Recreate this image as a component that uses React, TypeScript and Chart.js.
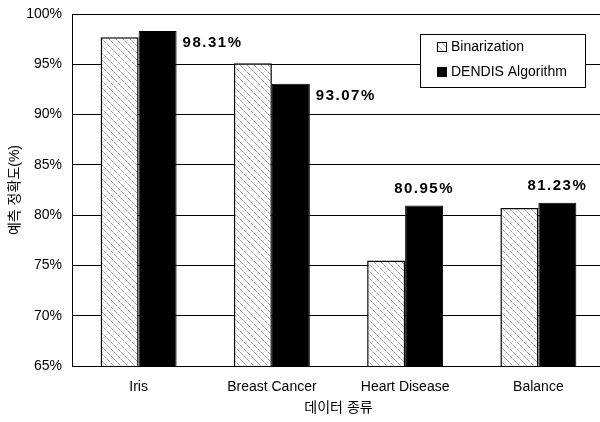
import React, { useEffect, useRef } from "react";
import { Chart, registerables } from "chart.js";

Chart.register(...registerables);

const categories = ["Iris", "Breast Cancer", "Heart Disease", "Balance"];
const binarization = [97.7, 95.1, 75.5, 80.7];
const dendis = [98.31, 93.07, 80.95, 81.23];
const dendisLabels = ["98.31%", "93.07%", "80.95%", "81.23%"];
const labelPlacement = ["right", "right", "top", "top"];
const seriesNames = ["Binarization", "DENDIS Algorithm"];
const yTitle = "예측 정확도(%)";
const xTitle = "데이터 종류";

const FONT = "'Liberation Sans', 'Noto Sans CJK KR', Arial, sans-serif";

function makeHatch(): CanvasPattern | string {
  const c = document.createElement("canvas");
  c.width = 7;
  c.height = 7;
  const g = c.getContext("2d");
  if (!g) return "#fff";
  g.fillStyle = "#ffffff";
  g.fillRect(0, 0, 7, 7);
  g.fillStyle = "#9a9a9a";
  for (let i = 0; i < 7; i += 1) if (i % 2 === 0 || i === 3) g.fillRect(i, i, 1, 1);
  g.fillStyle = "#c8c8c8";
  g.fillRect(1, 1, 1, 1);
  g.fillRect(5, 5, 1, 1);
  g.fillStyle = "#dddddd";
  g.fillRect(5, 1, 1, 1);
  g.fillRect(1, 5, 1, 1);
  const p = g.createPattern(c, "repeat");
  return p || "#fff";
}

export default function App() {
  const ref = useRef<HTMLCanvasElement | null>(null);

  useEffect(() => {
    const canvas = ref.current;
    if (!canvas) return;
    const hatch = makeHatch();

    const labelPlugin = {
      id: "dendisLabels",
      afterDatasetsDraw(chart: any) {
        const ctx = chart.ctx;
        const meta = chart.getDatasetMeta(1);
        ctx.save();
        ctx.font = `bold 15px ${FONT}`;
        ctx.fillStyle = "#000";
        ctx.textBaseline = "middle";
        try {
          (ctx as any).letterSpacing = "1.5px";
        } catch (e) {}
        meta.data.forEach((bar: any, i: number) => {
          if (labelPlacement[i] === "right") {
            ctx.textAlign = "left";
            ctx.fillText(dendisLabels[i], bar.x + bar.width / 2 + 6, bar.y + 12);
          } else {
            ctx.textAlign = "center";
            ctx.fillText(dendisLabels[i], bar.x, bar.y - 17);
          }
        });
        ctx.restore();
      },
    };

    const legendPlugin = {
      id: "boxLegend",
      afterDraw(chart: any) {
        const ctx = chart.ctx;
        const area = chart.chartArea;
        const w = 165;
        const h = 53;
        const x0 = area.right - 20 - w;
        const y0 = area.top + 20;
        ctx.save();
        ctx.fillStyle = "#fff";
        ctx.fillRect(x0, y0, w, h);
        ctx.strokeStyle = "#000";
        ctx.lineWidth = 1;
        ctx.strokeRect(x0 + 0.5, y0 + 0.5, w, h);
        ctx.font = `14px ${FONT}`;
        ctx.textAlign = "left";
        ctx.textBaseline = "middle";
        chart.data.datasets.forEach((ds: any, i: number) => {
          const cy = y0 + 13 + i * 25;
          const mx = x0 + 17;
          ctx.fillStyle = ds.backgroundColor;
          ctx.fillRect(mx, cy - 5, 10, 10);
          ctx.strokeStyle = "#000";
          ctx.lineWidth = 1;
          ctx.strokeRect(mx + 0.5, cy - 4.5, 9, 9);
          ctx.fillStyle = "#000";
          ctx.fillText(ds.label, mx + 14, cy);
        });
        ctx.restore();
      },
    };

    const chart = new Chart(canvas, {
      type: "bar",
      data: {
        labels: categories,
        datasets: [
          {
            label: seriesNames[0],
            data: binarization,
            backgroundColor: hatch as any,
            borderColor: "#000",
            borderWidth: 1.5,
          },
          {
            label: seriesNames[1],
            data: dendis,
            backgroundColor: "#000",
            borderColor: "#000",
            borderWidth: 1,
          },
        ],
      },
      options: {
        responsive: false,
        animation: false,
        devicePixelRatio: 1,
        layout: { padding: { top: 14, right: 0, left: 0, bottom: 0 } },
        datasets: {
          bar: { categoryPercentage: 0.57, barPercentage: 1.0 },
        },
        plugins: {
          legend: { display: false },
          tooltip: { enabled: false },
        },
        scales: {
          x: {
            grid: { display: false },
            border: { display: true, color: "#000", width: 1 },
            ticks: { color: "#000", font: { family: FONT, size: 14 }, padding: 5 },
            title: {
              display: true,
              text: xTitle,
              color: "#000",
              font: { family: FONT, size: 14 },
              padding: { top: 4, bottom: 5 },
            },
            afterFit: (s: any) => {
              s.height = 56;
              s.paddingLeft = 0;
              s.paddingRight = 0;
            },
          },
          y: {
            min: 65,
            max: 100,
            ticks: {
              stepSize: 5,
              color: "#000",
              font: { family: FONT, size: 14 },
              padding: 10,
              callback: (v: any) => `${v}%`,
            },
            grid: { color: "#000", lineWidth: 1, drawTicks: false },
            border: { display: true, color: "#000", width: 1 },
            title: {
              display: true,
              text: yTitle,
              color: "#000",
              font: { family: FONT, size: 14 },
              padding: { top: 7, bottom: 2 },
            },
            afterFit: (s: any) => {
              s.width = 72;
              s.paddingTop = 0;
              s.paddingBottom = 0;
            },
          },
        },
      },
      plugins: [labelPlugin, legendPlugin],
    });

    return () => chart.destroy();
  }, []);

  return (
    <div
      style={{
        position: "absolute",
        left: 0,
        top: 0,
        width: 600,
        height: 422,
        overflow: "hidden",
        background: "#fff",
      }}
    >
      <canvas ref={ref} width={605} height={422} style={{ display: "block" }} />
    </div>
  );
}
